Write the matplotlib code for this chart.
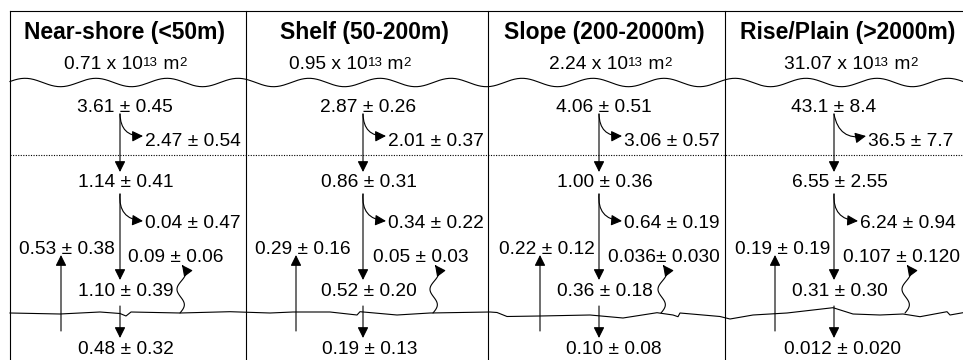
import numpy as np
import matplotlib
matplotlib.use("Agg")
import matplotlib.pyplot as plt
from matplotlib.patches import FancyArrowPatch
from matplotlib.path import Path

plt.rcParams['font.family'] = ['Liberation Sans', 'DejaVu Sans']

# ---------------- data ----------------
titles = ["Near-shore (<50m)", "Shelf (50-200m)", "Slope (200-2000m)", "Rise/Plain (>2000m)"]
areas = ["0.71", "0.95", "2.24", "31.07"]
surface_prod = ["3.61 ± 0.45", "2.87 ± 0.26", "4.06 ± 0.51", "43.1 ± 8.4"]
surface_remin = ["2.47 ± 0.54", "2.01 ± 0.37", "3.06 ± 0.57", "36.5 ± 7.7"]
export_flux = ["1.14 ± 0.41", "0.86 ± 0.31", "1.00 ± 0.36", "6.55 ± 2.55"]
deep_remin = ["0.04 ± 0.47", "0.34 ± 0.22", "0.64 ± 0.19", "6.24 ± 0.94"]
benthic_return = ["0.53 ± 0.38", "0.29 ± 0.16", "0.22 ± 0.12", "0.19 ± 0.19"]
sediment_release = ["0.09 ± 0.06", "0.05 ± 0.03", "0.036± 0.030", "0.107 ± 0.120"]
deposition = ["1.10 ± 0.39", "0.52 ± 0.20", "0.36 ± 0.18", "0.31 ± 0.30"]
burial = ["0.48 ± 0.32", "0.19 ± 0.13", "0.10 ± 0.08", "0.012 ± 0.020"]

# ---------------- layout (pixel units) ----------------
W, H = 963, 360
borders = [10, 246, 488, 725]
arrow_x = [120, 363, 599, 834]
title_cx = [125, 364, 604, 848]
sub_cx = [125, 350, 610, 851]
remin_dx = [25, 25, 25, 34]
deep_dx = [25, 25, 25, 26]
up_x = [61, 296, 540, 775]
up_text_dx = [-5, -12, -4, -4]
sq_x = [180, 433, 661, 905]
sq_text_dx = [8, 10, 9, 9]
burial_left = [78, 322, 566, 784]

fig = plt.figure(figsize=(W / 100, H / 100), dpi=100)
ax = fig.add_axes([0, 0, 1, 1])
ax.set_xlim(0, W)
ax.set_ylim(H, 0)
ax.axis('off')
renderer = fig.canvas.get_renderer()

LW = 0.8
VAL_FS = 13.8
SUB_FS = 13.8
SUP_FS = 9.5

# frame: top line and column borders
ax.plot([borders[0], W], [11, 11], color='black', lw=LW)
for b in borders:
    ax.plot([b, b], [11, H], color='black', lw=LW)

# top wavy (sea surface) line
xs = np.linspace(borders[0], W, 600)
ax.plot(xs, 82.5 - 4.2 * np.cos(2 * np.pi * (xs - 25) / 71), color='black', lw=LW)

# dotted mixed-layer line
ax.plot([borders[0], W], [154.5, 154.5], color='black', lw=0.8, linestyle=(0, (1, 1.3)))

# sediment-water interface (jagged hand-drawn line)
sed_x = [10, 60, 100, 120, 126, 131, 180, 230, 270, 293, 330, 357, 360, 397, 430,
         490, 497, 507, 540, 590, 623, 657, 673, 678, 680, 720, 730, 753, 787, 833,
         853, 880, 903, 920, 947, 950, 963]
sed_y = [313, 314, 312, 313.5, 316, 312, 313, 311.7, 313, 312, 312, 315, 311.7, 315, 313,
         312, 312.5, 316.5, 316, 315, 318, 312.7, 315, 316.7, 313, 316.5, 319, 315, 313, 307.7,
         314, 315, 314, 316.7, 311.7, 315, 312.7]
ax.plot(sed_x, sed_y, color='black', lw=LW)

ASTYLE = '-|>,head_length=0.5,head_width=0.25'


def arrow(p0, p1, rad=0.0):
    a = FancyArrowPatch(p0, p1, arrowstyle=ASTYLE,
                        mutation_scale=13, lw=LW, color='black',
                        shrinkA=0, shrinkB=0,
                        connectionstyle=f"arc3,rad={rad}")
    ax.add_patch(a)


def squiggle(x0, y0, y1):
    t = np.linspace(0, 1, 80)
    xx = x0 + 2 * t + 4 * np.sin(3 * np.pi * t)
    yy = y0 - (y0 - y1) * t
    a = FancyArrowPatch(path=Path(np.column_stack([xx, yy])),
                        arrowstyle=ASTYLE,
                        mutation_scale=13, lw=LW, color='black',
                        transform=ax.transData)
    ax.add_patch(a)


def area_label(cx, y, value):
    # "value x 10^13 m^2" with real superscript text pieces
    pieces = [(value + " x 10", SUB_FS, 0.0), ("13", SUP_FS, -3.5),
              (" m", SUB_FS, 0.0), ("2", SUP_FS, -3.5)]
    objs = []
    widths = []
    for s, fs, dy in pieces:
        t = ax.text(0, y + dy, s, ha='left', va='baseline', fontsize=fs)
        widths.append(t.get_window_extent(renderer).width)
        objs.append(t)
    x = cx - sum(widths) / 2
    for t, w in zip(objs, widths):
        t.set_x(x)
        x += w


for i in range(4):
    ax_ = arrow_x[i]
    # headers
    ax.text(title_cx[i], 39, titles[i], ha='center', va='baseline',
            fontsize=16.5, fontweight='bold')
    area_label(sub_cx[i], 69, areas[i])

    # surface layer
    ax.text(ax_ - 43, 112, surface_prod[i], ha='left', va='baseline', fontsize=VAL_FS)
    arrow((ax_, 114), (ax_ + remin_dx[i] - 2, 136), rad=0.5)
    ax.text(ax_ + remin_dx[i], 145.5, surface_remin[i], ha='left', va='baseline', fontsize=VAL_FS)
    arrow((ax_, 114), (ax_, 172))

    # below mixed layer
    ax.text(ax_ - 42, 187, export_flux[i], ha='left', va='baseline', fontsize=VAL_FS)
    arrow((ax_, 194), (ax_ + deep_dx[i] - 2, 221), rad=0.5)
    ax.text(ax_ + deep_dx[i], 228.5, deep_remin[i], ha='left', va='baseline', fontsize=VAL_FS)
    arrow((ax_, 194), (ax_, 280))

    # benthic return (upward)
    ax.text(ax_ + up_text_dx[i], 254.5, benthic_return[i], ha='right', va='baseline', fontsize=VAL_FS)
    arrow((up_x[i], 331), (up_x[i], 255))

    # sediment release (squiggle)
    ax.text(ax_ + sq_text_dx[i], 262.5, sediment_release[i], ha='left', va='baseline', fontsize=VAL_FS)
    squiggle(sq_x[i], 313, 265)

    # deposition and burial
    ax.text(ax_ - 42, 295.5, deposition[i], ha='left', va='baseline', fontsize=VAL_FS)
    arrow((ax_, 306), (ax_, 338))
    ax.text(burial_left[i], 354.5, burial[i], ha='left', va='baseline', fontsize=VAL_FS)

fig.savefig("out.png", dpi=100)
